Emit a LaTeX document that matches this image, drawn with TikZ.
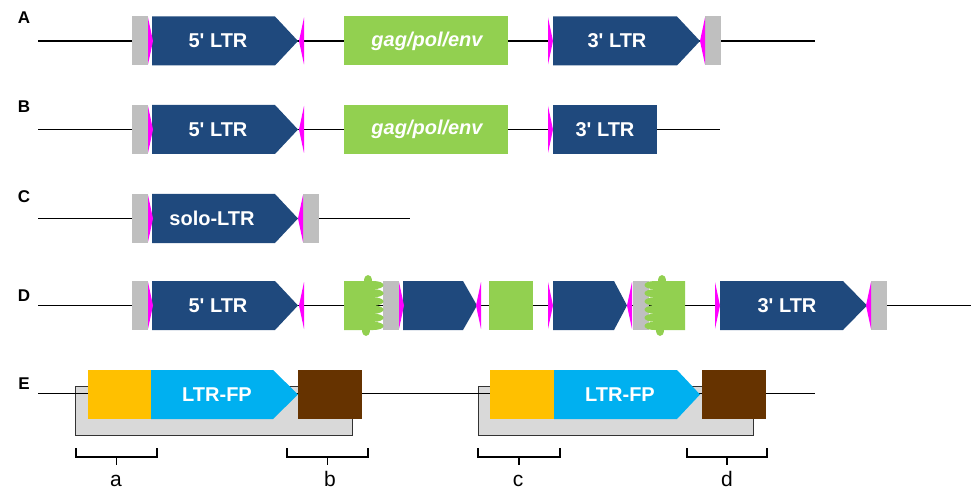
\documentclass[tikz,border=0pt]{standalone}
\usepackage{fontspec}
\setmainfont{Liberation Sans}
\definecolor{ltrblue}{HTML}{1F497D}
\definecolor{ggreen}{HTML}{92D050}
\definecolor{mag}{HTML}{FF00FF}
\definecolor{tsd}{HTML}{BFBFBF}
\definecolor{orng}{HTML}{FFC000}
\definecolor{cyanfp}{HTML}{00B0F0}
\definecolor{brwn}{HTML}{663300}
\definecolor{lgray}{HTML}{D9D9D9}
\newcommand\tsdbox[3]{\fill[tsd] (#1,#3-24.5) rectangle (#2,#3+24.5);}
\newcommand\magR[2]{\fill[mag] (#1,#2-23.5) -- (#1+5,#2) -- (#1,#2+23.5) -- cycle;}
\newcommand\magL[2]{\fill[mag] (#1,#2-23.5) -- (#1-5,#2) -- (#1,#2+23.5) -- cycle;}
\newcommand\pent[5]{\fill[#5] (#1,#4-24.5) -- (#2,#4-24.5) -- (#3,#4) -- (#2,#4+24.5) -- (#1,#4+24.5) -- cycle;}
\newcommand\rbox[4]{\fill[#4] (#1,#3-24.5) rectangle (#2,#3+24.5);}
\tikzset{
  backbone/.style={line width=1.8pt},
  boxtext/.style={text=white,font=\bfseries\fontsize{20}{22}\selectfont,inner sep=0pt},
  rowlab/.style={font=\bfseries\fontsize{17}{19}\selectfont,inner sep=0pt},
  brlab/.style={font=\fontsize{21}{23}\selectfont,inner sep=0pt,anchor=base},
  brack/.style={line width=1.4pt},
}
\begin{document}
\begin{tikzpicture}[x=1pt,y=-1pt]
\useasboundingbox (0,0) rectangle (971,489);
% ---------- row labels
\node[rowlab] (LA) at (24,18) {A};
\node[rowlab] (LB) at (24,107) {B};
\node[rowlab] (LC) at (24,197) {C};
\node[rowlab] (LD) at (24,296) {D};
\node[rowlab] (LE) at (24,384) {E};
% ---------- row A
\coordinate (a0) at (38,41); \coordinate (a1) at (815,41);
\draw[backbone] (a0) -- (a1);
\tsdbox{132}{148}{41}
\pent{152}{275}{298}{41}{ltrblue}
\magR{148}{41}
\magL{304}{41}
\rbox{344}{508}{41}{ggreen}
\pent{553}{677}{700}{41}{ltrblue}
\magR{548}{41}
\tsdbox{705}{721}{41}
\magL{705}{41}
\node[boxtext] (A5) at (218,41) {5\textquotesingle{} LTR};
\node[boxtext] (Ag) at (427,41) {\itshape gag/pol/env};
\node[boxtext] (A3) at (617,41) {3\textquotesingle{} LTR};
% ---------- row B
\coordinate (b0) at (38,129.5); \coordinate (b1) at (720,129.5);
\draw[backbone] (b0) -- (b1);
\tsdbox{132}{148}{129.5}
\pent{152}{275}{298}{129.5}{ltrblue}
\magR{148}{129.5}
\magL{304}{129.5}
\rbox{344}{508}{129.5}{ggreen}
\rbox{553}{657}{129.5}{ltrblue}
\magR{548}{129.5}
\node[boxtext] (B5) at (218,129.5) {5\textquotesingle{} LTR};
\node[boxtext] (Bg) at (427,129.5) {\itshape gag/pol/env};
\node[boxtext] (B3) at (605,129.5) {3\textquotesingle{} LTR};
% ---------- row C
\coordinate (c0) at (38,218.5); \coordinate (c1) at (410,218.5);
\draw[backbone] (c0) -- (c1);
\tsdbox{132}{148}{218.5}
\pent{152}{275}{298}{218.5}{ltrblue}
\magR{148}{218.5}
\tsdbox{303}{319}{218.5}
\magL{303}{218.5}
\node[boxtext] (Cs) at (212,218.5) {solo-LTR};
% ---------- row D
\coordinate (d0) at (38,305.5); \coordinate (d1) at (971,305.5);
\draw[backbone] (d0) -- (d1);
\tsdbox{132}{148}{305.5}
\pent{152}{275}{298}{305.5}{ltrblue}
\magR{148}{305.5}
\magL{304}{305.5}
% ragged green 1
\tsdbox{383}{399}{305.5}
\fill[ggreen] (344,281) -- (364,281) .. controls (364,273) and (372,273) .. (372,281) -- (373,281)
  \foreach \k in {0,...,5} { .. controls (387,{281+8.17*\k}) and (387,{289.17+8.17*\k}) .. (373,{289.17+8.17*\k}) }
  -- (370,330) .. controls (370,338) and (362,338) .. (362,330) -- (344,330) -- cycle;
\pent{403}{463}{477}{305.5}{ltrblue}
\magR{399}{305.5}
\magL{481}{305.5}
\rbox{489}{533}{305.5}{ggreen}
\pent{553}{614}{627}{305.5}{ltrblue}
\magR{548}{305.5}
\tsdbox{633}{649}{305.5}
\magL{632}{305.5}
% ragged green 2
\fill[ggreen] (685,281) -- (666,281) .. controls (666,273) and (658,273) .. (658,281) -- (655,281)
  \foreach \k in {0,...,5} { .. controls (641,{281+8.17*\k}) and (641,{289.17+8.17*\k}) .. (655,{289.17+8.17*\k}) }
  -- (656,330) .. controls (656,338) and (664,338) .. (664,330) -- (685,330) -- cycle;
\pent{720}{843}{867}{305.5}{ltrblue}
\magR{715}{305.5}
\tsdbox{871}{887}{305.5}
\magL{871}{305.5}
\node[boxtext] (D5) at (218,305.5) {5\textquotesingle{} LTR};
\node[boxtext] (D3) at (787,305.5) {3\textquotesingle{} LTR};
% ---------- row E
\filldraw[fill=lgray,draw=black!80,line width=0.8pt] (75,386) rectangle (352,435);
\filldraw[fill=lgray,draw=black!80,line width=0.8pt] (478,386) rectangle (753,435);
\coordinate (e0) at (38,393.5); \coordinate (e1) at (815,393.5);
\draw[backbone] (e0) -- (e1);
\rbox{88}{151}{394.5}{orng}
\pent{151}{273}{298}{394.5}{cyanfp}
\rbox{298}{362}{394.5}{brwn}
\rbox{490}{554}{394.5}{orng}
\pent{554}{677}{700}{394.5}{cyanfp}
\rbox{702}{766}{394.5}{brwn}
\node[boxtext] (E1) at (217,394.5) {LTR-FP};
\node[boxtext] (E2) at (620,394.5) {LTR-FP};
% brackets
\draw[brack] (76,448) -- (76,457) -- (157,457) -- (157,448);
\draw[brack] (116.5,457) -- (116.5,465);
\draw[brack] (287,448) -- (287,457) -- (368,457) -- (368,448);
\draw[brack] (327.5,457) -- (327.5,465);
\draw[brack] (478,448) -- (478,457) -- (560,457) -- (560,448);
\draw[brack] (519,457) -- (519,465);
\draw[brack] (687,448) -- (687,457) -- (767,457) -- (767,448);
\draw[brack] (727,457) -- (727,465);
\node[brlab] (ba) at (116,486) {a};
\node[brlab] (bb) at (330,486) {b};
\node[brlab] (bc) at (518,486) {c};
\node[brlab] (bd) at (727,486) {d};
\end{tikzpicture}
\end{document}
